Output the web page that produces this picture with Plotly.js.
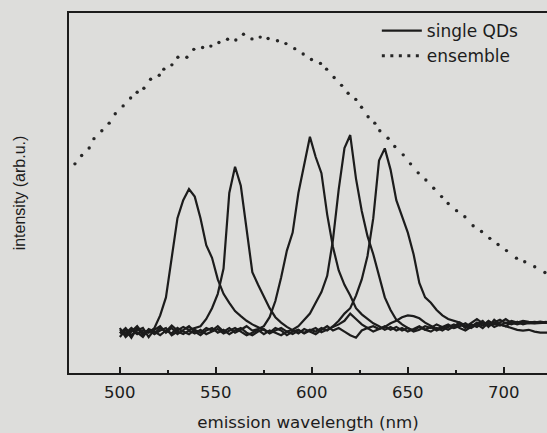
<!DOCTYPE html>
<html>
<head>
<meta charset="utf-8">
<script src="https://cdn.plot.ly/plotly-3.0.1.min.js"></script>
<style>
html,body{margin:0;padding:0;overflow:hidden;background:#dddddb;}
#chart{width:547px;height:433px;}
</style>
</head>
<body>
<div id="chart"></div>
<script>
// emission wavelength grid (nm) for single-QD spectra
var wavelength = [
  500,503,506,509,512,515,518,521,524,527,
  530,533,536,539,542,545,548,551,554,557,
  560,563,566,569,572,575,578,581,584,587,
  590,593,596,599,602,605,608,611,614,617,
  620,623,626,629,632,635,638,641,644,647,
  650,653,656,659,662,665,668,671,674,677,
  680,683,686,689,692,695,698,701,704,707,
  710,713,716,719,722,725
];

// single QD spectra (arb. u.)
var qd536 = [
  0.115,0.105,0.120,0.108,0.118,0.112,0.125,0.160,0.210,0.320,
  0.430,0.480,0.511,0.490,0.430,0.355,0.320,0.260,0.220,0.195,
  0.172,0.158,0.145,0.135,0.128,0.120,0.112,0.125,0.118,0.105,
  0.115,0.120,0.110,0.118,0.125,0.113,0.120,0.128,0.135,0.145,
  0.165,0.150,0.135,0.125,0.130,0.122,0.128,0.138,0.145,0.155,
  0.160,0.158,0.152,0.140,0.130,0.122,0.128,0.135,0.125,0.130,
  0.138,0.128,0.140,0.132,0.145,0.135,0.140,0.150,0.138,0.142,
  0.135,0.140,0.138,0.140,0.140,0.140
];
var qd560 = [
  0.100,0.120,0.098,0.125,0.105,0.118,0.110,0.125,0.115,0.132,
  0.118,0.128,0.120,0.125,0.130,0.150,0.180,0.220,0.290,0.500,
  0.573,0.520,0.400,0.280,0.245,0.210,0.180,0.155,0.140,0.128,
  0.120,0.110,0.122,0.115,0.108,0.120,0.130,0.118,0.125,0.115,
  0.105,0.098,0.118,0.125,0.115,0.122,0.130,0.120,0.128,0.118,
  0.125,0.115,0.120,0.130,0.125,0.135,0.128,0.120,0.130,0.140,
  0.125,0.135,0.128,0.140,0.130,0.138,0.132,0.140,0.135,0.142,
  0.138,0.140,0.142,0.140,0.142,0.140
];
var qd599 = [
  0.120,0.110,0.125,0.112,0.100,0.122,0.115,0.105,0.118,0.110,
  0.125,0.115,0.108,0.120,0.112,0.125,0.118,0.130,0.115,0.125,
  0.112,0.120,0.130,0.118,0.122,0.130,0.155,0.200,0.265,0.340,
  0.390,0.500,0.580,0.656,0.600,0.555,0.440,0.350,0.285,0.245,
  0.215,0.180,0.163,0.150,0.138,0.130,0.120,0.128,0.118,0.125,
  0.115,0.122,0.130,0.120,0.128,0.118,0.125,0.132,0.125,0.135,
  0.128,0.140,0.150,0.138,0.132,0.140,0.148,0.138,0.145,0.140,
  0.145,0.142,0.140,0.143,0.140,0.142
];
var qd620 = [
  0.110,0.125,0.105,0.118,0.125,0.100,0.120,0.130,0.112,0.125,
  0.108,0.120,0.130,0.115,0.105,0.118,0.125,0.112,0.120,0.108,
  0.118,0.125,0.112,0.105,0.115,0.122,0.110,0.118,0.125,0.115,
  0.120,0.130,0.148,0.165,0.195,0.225,0.270,0.370,0.510,0.625,
  0.661,0.540,0.450,0.380,0.330,0.270,0.210,0.175,0.148,0.135,
  0.125,0.118,0.128,0.120,0.115,0.125,0.118,0.128,0.135,0.125,
  0.118,0.128,0.135,0.125,0.140,0.128,0.135,0.130,0.140,0.135,
  0.140,0.138,0.140,0.140,0.140,0.140
];
var qd639 = [
  0.125,0.100,0.115,0.130,0.110,0.120,0.108,0.118,0.125,0.105,
  0.115,0.108,0.118,0.110,0.120,0.108,0.115,0.122,0.110,0.118,
  0.125,0.115,0.105,0.112,0.120,0.108,0.118,0.112,0.105,0.115,
  0.108,0.118,0.112,0.120,0.115,0.125,0.118,0.130,0.145,0.165,
  0.180,0.215,0.260,0.325,0.430,0.590,0.624,0.565,0.480,0.435,
  0.390,0.330,0.250,0.210,0.195,0.175,0.160,0.150,0.145,0.140,
  0.132,0.125,0.135,0.145,0.128,0.148,0.135,0.130,0.125,0.120,
  0.118,0.120,0.115,0.112,0.112,0.112
];

// ensemble spectrum (dotted)
var ensembleNm = [
  476.6,480.1,484.0,486.5,490.6,494.4,497.6,501.7,505.6,509.0,
  512.5,516.0,520.5,522.9,527.1,530.2,534.9,538.5,543.1,547.4,
  551.6,556.1,560.4,564.4,568.8,573.1,577.2,582.1,586.5,591.1,
  595.5,599.8,604.5,607.7,611.6,615.5,618.9,622.9,625.9,629.3,
  632.8,635.4,639.7,643.2,647.6,651.4,655.4,659.4,663.5,667.6,
  671.0,675.4,679.7,684.0,688.4,692.7,697.0,701.4,706.6,710.9,
  716.1,721.4
];
var ensembleVal = [
  0.581,0.604,0.625,0.651,0.673,0.694,0.720,0.742,0.764,0.780,
  0.791,0.816,0.827,0.844,0.856,0.877,0.877,0.899,0.904,0.908,
  0.918,0.927,0.925,0.941,0.928,0.933,0.929,0.923,0.915,0.901,
  0.886,0.871,0.860,0.844,0.821,0.799,0.777,0.760,0.738,0.712,
  0.694,0.673,0.652,0.629,0.606,0.581,0.556,0.536,0.513,0.490,
  0.471,0.451,0.434,0.409,0.393,0.374,0.357,0.340,0.319,0.309,
  0.295,0.279
];

var xTickVals = [500, 550, 600, 650, 700];
var xTickText = ['500', '550', '600', '650', '700'];

var ink = '#1c1c1c';
var lineStyle = {color: ink, width: 2.2};
var qdSeries = [qd536, qd560, qd599, qd620, qd639];

var traces = qdSeries.map(function (s, i) {
  return {
    x: wavelength, y: s, type: 'scatter', mode: 'lines',
    line: lineStyle, name: 'single QDs',
    legendgroup: 'qd', showlegend: i === 0, hoverinfo: 'skip'
  };
});
traces.push({
  x: ensembleNm, y: ensembleVal, type: 'scatter', mode: 'markers',
  marker: {color: '#262626', size: 3.4, line: {width: 0}},
  name: 'ensemble', showlegend: false, hoverinfo: 'skip'
});
// legend entry for ensemble drawn as a dotted line
traces.push({
  x: [null], y: [null], type: 'scatter', mode: 'lines',
  line: {color: '#262626', width: 3, dash: '3px,5.5px'},
  name: 'ensemble', legendgroup: 'ens', showlegend: true, hoverinfo: 'skip'
});

var layout = {
  width: 547, height: 433,
  margin: {l: 69, r: 0, t: 13, b: 60},
  paper_bgcolor: '#dddddb',
  plot_bgcolor: '#dddddb',
  showlegend: true,
  legend: {
    x: 0.644, xanchor: 'left', y: 1.0, yanchor: 'top',
    bgcolor: 'rgba(0,0,0,0)', borderwidth: 0,
    font: {family: 'DejaVu Sans', size: 17, color: ink},
    itemwidth: 40, tracegroupgap: 0, traceorder: 'grouped'
  },
  xaxis: {
    range: [473.5, 722.5],
    showline: true, linewidth: 2, linecolor: ink, mirror: true,
    showgrid: false, zeroline: false,
    ticks: 'inside', ticklen: 6, tickwidth: 1.5, tickcolor: ink,
    tickvals: xTickVals, ticktext: xTickText,
    ticklabelstandoff: 3,
    minor: {tickvals: [525, 575, 625, 675], ticks: 'inside', ticklen: 3, tickwidth: 1.5, tickcolor: ink, showgrid: false},
    tickfont: {family: 'DejaVu Sans', size: 16.5, color: ink},
    title: {text: 'emission wavelength (nm)', font: {family: 'DejaVu Sans', size: 16.7, color: ink}, standoff: 16}
  },
  yaxis: {
    range: [0, 1],
    showline: true, linewidth: 2, linecolor: ink, mirror: false,
    showgrid: false, zeroline: false, ticks: '', showticklabels: false,
    title: {text: 'intensity (arb.u.)', font: {family: 'Liberation Sans', size: 16, color: ink}, standoff: 37}
  }
};

Plotly.newPlot('chart', traces, layout, {displayModeBar: false, staticPlot: true});
</script>
</body>
</html>
